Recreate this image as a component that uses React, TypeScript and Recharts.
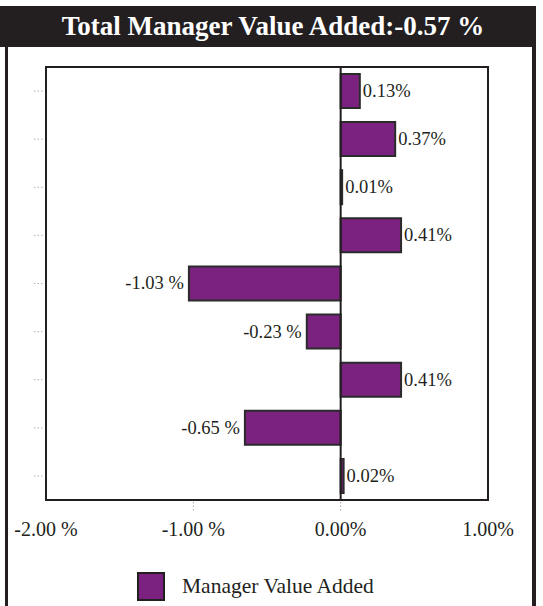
import React from 'react';
import { BarChart, Bar, XAxis, YAxis, ReferenceArea, ReferenceLine, LabelList } from 'recharts';

const managers = ['M1', 'M2', 'M3', 'M4', 'M5', 'M6', 'M7', 'M8', 'M9'];
const valueAdded = [0.13, 0.37, 0.01, 0.41, -1.03, -0.23, 0.41, -0.65, 0.02];
const xTicks = [-2, -1, 0, 1];
const totalValueAdded = -0.57;

const INK = '#231f20';
const PURPLE = '#7b2280';
const FONT = '"Liberation Serif", "Times New Roman", serif';

const fmt = (v: number) => (v < 0 ? `${v.toFixed(2)} %` : `${v.toFixed(2)}%`);

const data = managers.map((name, i) => ({ name, value: valueAdded[i] }));

const XTick = (props: any) => {
  const { x, y, payload } = props;
  const v = payload.value;
  const edge = v === xTicks[0] || v === xTicks[xTicks.length - 1];
  return (
    <g>
      {!edge && (
        <line x1={x} x2={x} y1={y + 2} y2={y + 12} stroke="#aaa" strokeDasharray="1.5 2" />
      )}
      <text x={x} y={y + 36} textAnchor="middle" fill={INK} fontSize={20} fontFamily={FONT}>
        {fmt(v)}
      </text>
    </g>
  );
};

// y ticks carry no text, only the dotted tick line
const YTick = (props: any) => {
  const { x, y } = props;
  return <line x1={x - 10} x2={x} y1={y} y2={y} stroke="#b0b0b0" strokeDasharray="1.5 2" />;
};

const ValueLabel = (props: any) => {
  const { x, y, width, height, value } = props;
  const left = Math.min(x, x + width);
  const right = Math.max(x, x + width);
  const neg = value < 0;
  return (
    <text
      x={neg ? left - 5 : right + 3}
      y={y + height / 2}
      textAnchor={neg ? 'end' : 'start'}
      dominantBaseline="central"
      fill={INK}
      fontSize={18.5}
      fontFamily={FONT}
    >
      {fmt(value)}
    </text>
  );
};

export default function App() {
  return (
    <div style={{ position: 'absolute', left: 0, top: 0, width: 543, height: 606, background: '#fff', fontFamily: FONT }}>
      <div
        style={{
          position: 'absolute', left: 0, top: 6, width: 536, height: 41, background: INK,
          color: '#fff', fontWeight: 'bold', fontSize: 27, lineHeight: '41px', textAlign: 'center',
          boxSizing: 'border-box', paddingLeft: 10,
        }}
      >
        {`Total Manager Value Added:${fmt(totalValueAdded)}`}
      </div>
      <div style={{ position: 'absolute', left: 5, top: 47, width: 3, height: 559, background: INK }} />
      <div style={{ position: 'absolute', left: 532, top: 47, width: 4, height: 559, background: INK }} />

      <div style={{ position: 'absolute', left: 0, top: 47 }}>
        <BarChart
          width={543}
          height={559}
          data={data}
          layout="vertical"
          margin={{ top: 20, right: 55, bottom: 66, left: 26 }}
          barCategoryGap={0}
        >
          <XAxis
            type="number"
            domain={[-2, 1]}
            ticks={xTicks}
            interval={0}
            axisLine={false}
            tickLine={false}
            tickSize={0}
            tickMargin={0}
            height={40}
            tick={<XTick />}
          />
          <YAxis
            type="category"
            dataKey="name"
            width={20}
            axisLine={false}
            tickLine={false}
            tickSize={0}
            tickMargin={2}
            interval={0}
            tick={<YTick />}
          />
          <ReferenceArea x1={-2} x2={1} fill="none" stroke={INK} strokeWidth={2} ifOverflow="visible" />
          <ReferenceLine x={0} stroke={INK} strokeWidth={2} />
          <Bar dataKey="value" fill={PURPLE} stroke="#2b2b2b" strokeWidth={2} barSize={34} isAnimationActive={false}>
            <LabelList dataKey="value" content={<ValueLabel />} />
          </Bar>
        </BarChart>
      </div>

      <div style={{ position: 'absolute', left: 137, top: 572, display: 'flex', alignItems: 'center' }}>
        <div style={{ width: 24, height: 25, background: PURPLE, border: `2px solid ${INK}` }} />
        <span style={{ marginLeft: 17, fontSize: 21.5, color: INK }}>Manager Value Added</span>
      </div>
    </div>
  );
}
